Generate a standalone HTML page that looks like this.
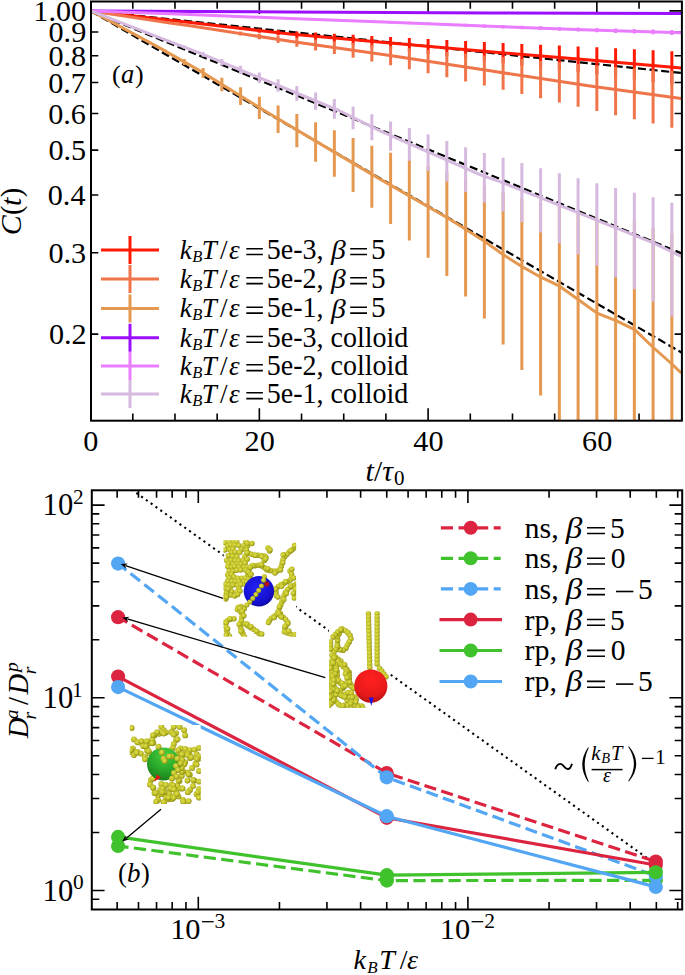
<!DOCTYPE html>
<html><head><meta charset="utf-8"><title>figure</title>
<style>
html,body{margin:0;padding:0;background:#fff;}
svg{display:block;}
text{font-family:"Liberation Serif",serif;fill:#000;}
</style></head><body>

<svg width="685" height="975" viewBox="0 0 685 975">
<defs>
<clipPath id="clipA"><rect x="91" y="1.5" width="590.9" height="419.2"/></clipPath>
<clipPath id="clipB"><rect x="91.8" y="490.3" width="590.4" height="419.2"/></clipPath>
<clipPath id="clipI1"><rect x="223.4" y="540.2" width="72.7" height="96.4"/></clipPath>
<clipPath id="clipI2"><rect x="329" y="611.2" width="59.8" height="96.6"/></clipPath>
<clipPath id="clipI3"><rect x="129.8" y="725" width="71" height="78.9"/></clipPath>
<radialGradient id="gy" cx="0.42" cy="0.4" r="0.62"><stop offset="0" stop-color="#dede50"/><stop offset="0.55" stop-color="#c4c42a"/><stop offset="1" stop-color="#8a8a12"/></radialGradient>
<radialGradient id="gb" cx="0.42" cy="0.38" r="0.7"><stop offset="0" stop-color="#2222f4"/><stop offset="0.7" stop-color="#1510d0"/><stop offset="1" stop-color="#0c0890"/></radialGradient>
<radialGradient id="gr" cx="0.5" cy="0.3" r="0.75"><stop offset="0" stop-color="#ff2020"/><stop offset="0.65" stop-color="#e81a1a"/><stop offset="1" stop-color="#b01010"/></radialGradient>
<radialGradient id="gg" cx="0.55" cy="0.2" r="0.8"><stop offset="0" stop-color="#48d040"/><stop offset="0.6" stop-color="#2aa82a"/><stop offset="1" stop-color="#1a801a"/></radialGradient>
</defs>
<rect width="685" height="975" fill="#fff"/>
<path d="M132.79 420.7v-7.3M132.79 1.5v7.3M174.97 420.7v-7.3M174.97 1.5v7.3M217.16 420.7v-7.3M217.16 1.5v7.3M259.35 420.7v-12.5M259.35 1.5v12.5M301.54 420.7v-7.3M301.54 1.5v7.3M343.73 420.7v-7.3M343.73 1.5v7.3M385.91 420.7v-7.3M385.91 1.5v7.3M428.1 420.7v-12.5M428.1 1.5v12.5M470.29 420.7v-7.3M470.29 1.5v7.3M512.48 420.7v-7.3M512.48 1.5v7.3M554.66 420.7v-7.3M554.66 1.5v7.3M596.85 420.7v-12.5M596.85 1.5v12.5M639.04 420.7v-7.3M639.04 1.5v7.3M91 10.9h12.5M681.9 10.9h-12.5M91 334.17h7.3M681.9 334.17h-7.3M91 252.73h7.3M681.9 252.73h-7.3M91 194.95h7.3M681.9 194.95h-7.3M91 150.13h7.3M681.9 150.13h-7.3M91 113.51h7.3M681.9 113.51h-7.3M91 82.54h7.3M681.9 82.54h-7.3M91 55.72h7.3M681.9 55.72h-7.3M91 32.06h7.3M681.9 32.06h-7.3" stroke="#000" stroke-width="1.6" fill="none"/>
<g clip-path="url(#clipA)">
<path d="M91 10.9 L681.9 73.06" stroke="#000" stroke-width="2.2" stroke-dasharray="8.1 3.6" fill="none"/>
<path d="M91 11.2 L681.9 253.47" stroke="#000" stroke-width="2.2" stroke-dasharray="8.1 3.6" fill="none"/>
<path d="M91 11.2 L681.9 352.74" stroke="#000" stroke-width="2.2" stroke-dasharray="8.1 3.6" fill="none"/>
<path d="M91 10.9 L170 20.2 L190 22.6 L290 34 L390 43.1 L490 51.8 L590 59.9 L681.2 67.9" fill="none" stroke="#ff1a05" stroke-width="3.0" stroke-linejoin="round"/>
<path d="M203.1 23.58V24.61M221.85 25.19V27.27M240.6 26.8V29.95M259.35 28.39V32.64M278.1 29.98V35.35M296.85 31.39V37.91M315.6 32.54V40.2M334.35 33.67V42.5M353.1 34.79V44.81M371.85 35.91V47.14M390.6 37.02V49.48M409.35 38.05V51.75M428.1 39.07V54.04M446.85 40.09V56.33M465.6 41.09V58.65M484.35 42.09V60.97M503.1 43.01V63.22M521.85 43.88V65.45M540.6 44.75V67.7M559.35 45.62V69.95M578.1 46.47V72.22M596.85 47.36V74.56M615.6 48.32V76.99M634.35 49.27V79.44M653.1 50.22V81.9M671.85 51.15V84.38" stroke="#ff1a05" stroke-width="3.0" fill="none"/>
<path d="M91 10.9 L170 23.1 L190 25.7 L290 41.2 L390 55.5 L490 70.8 L590 86.1 L681.2 98.5" fill="none" stroke="#f07449" stroke-width="3.0" stroke-linejoin="round"/>
<path d="M203.1 27.38V28.08M221.85 29.49V31.79M240.6 31.57V35.53M259.35 33.64V39.3M278.1 35.69V43.09M296.85 37.63V46.83M315.6 39.42V50.46M334.35 41.18V54.11M353.1 42.93V57.79M371.85 44.66V61.5M390.6 46.37V65.25M409.35 48.24V69.23M428.1 50.08V73.24M446.85 51.91V77.29M465.6 53.71V81.38M484.35 55.48V85.51M503.1 57.24V89.68M521.85 58.97V93.89M540.6 60.68V98.15M559.35 62.37V102.45M578.1 64.03V106.8M596.85 65.57V111.07M615.6 66.9V115.15M634.35 68.21V119.29M653.1 69.5V123.47M671.85 70.77V127.71" stroke="#f07449" stroke-width="3.0" fill="none"/>
<path d="M91 10.9 L160 48.1 L200 70.9 L260 108 L330 149.6 L380 179.1 L448.6 218.5 L484.5 241.3 L503.3 254.8 L522.2 266.7 L540.8 277.2 L559.6 286.2 L578.5 299.7 L597 313.1 L615.9 320.6 L634.7 329.6 L653.3 347.5 L671.9 364 L681.2 373" fill="none" stroke="#e5984f" stroke-width="3.0" stroke-linejoin="round"/>
<path d="M146.85 40.82V41.2M165.6 49.73V52.87M184.35 58.9V65.11M203.1 68.06V77.69M221.85 77.8V91.24M240.6 87.36V105.04M259.35 96.72V119.1M278.1 105.46V132.99M296.85 113.98V147.19M315.6 122.29V161.73M334.35 130.35V176.65M353.1 138.11V191.94M371.85 145.63V207.74M390.6 152.75V223.89M409.35 159.5V240.53M428.1 166V257.87M446.85 172.22V276.04M465.6 178.97V296.61M484.35 185.47V318.6M503.1 192.78V344.54M521.85 198.52V369.97M540.6 203.07V395.55M559.35 206.25V420.54M578.1 212.03V430M596.85 217.54V430M615.6 218.97V430M634.35 221.09V430M653.1 227.98V430M671.85 233.56V430" stroke="#e5984f" stroke-width="3.0" fill="none"/>
<path d="M91 10.9 L290 11.9 L490 12.9 L681.2 13.4" fill="none" stroke="#9b0fff" stroke-width="3.0" stroke-linejoin="round"/>
<path d="M109.35 10.97V11.01M128.1 11.05V11.13M146.85 11.12V11.24M165.6 11.19V11.36M184.35 11.27V11.47M203.1 11.34V11.58M221.85 11.42V11.7M240.6 11.49V11.81M259.35 11.56V11.93M278.1 11.64V12.04M296.85 11.71V12.16M315.6 11.79V12.27M334.35 11.86V12.38M353.1 11.93V12.5M371.85 12.01V12.61M390.6 12.08V12.73M409.35 12.15V12.84M428.1 12.23V12.96M446.85 12.3V13.07M465.6 12.37V13.18M484.35 12.45V13.3M503.1 12.49V13.38M521.85 12.52V13.45M540.6 12.55V13.52M559.35 12.57V13.59M578.1 12.6V13.66M596.85 12.63V13.73M615.6 12.66V13.8M634.35 12.69V13.87M653.1 12.72V13.94M671.85 12.75V14.01" stroke="#9b0fff" stroke-width="3.0" fill="none"/>
<path d="M91 10.9 L170 13.8 L190 14.6 L290 18.5 L390 22.2 L490 26.3 L590 29.9 L681.2 32.8" fill="none" stroke="#e97cff" stroke-width="3.0" stroke-linejoin="round"/>
<path d="M109.35 11.5V11.64M128.1 12.12V12.4M146.85 12.74V13.16M165.6 13.35V13.92M184.35 14.02V14.73M203.1 14.68V15.54M221.85 15.34V16.35M240.6 16V17.15M259.35 16.65V17.96M278.1 17.31V18.77M296.85 17.95V19.56M315.6 18.57V20.33M334.35 19.19V21.1M353.1 19.8V21.87M371.85 20.42V22.64M390.6 21.04V23.42M409.35 21.73V24.27M428.1 22.42V25.12M446.85 23.11V25.97M465.6 23.79V26.82M484.35 24.48V27.67M503.1 25.1V28.45M521.85 25.7V29.21M540.6 26.29V29.97M559.35 26.88V30.73M578.1 27.48V31.49M596.85 28.04V32.22M615.6 28.55V32.9M634.35 29.07V33.58M653.1 29.58V34.26M671.85 30.09V34.94" stroke="#e97cff" stroke-width="3.0" fill="none"/>
<path d="M91 10.9 L160 37.9 L200 53.1 L340 111 L380 130.9 L480 174.7 L503.3 182.9 L540.8 197.9 L578.5 212.9 L615.9 227.8 L653.3 242.8 L681.2 256.3" fill="none" stroke="#d6b9de" stroke-width="3.0" stroke-linejoin="round"/>
<path d="M146.85 32.57V32.94M165.6 39.16V40.9M184.35 45.55V48.77M203.1 51.99V56.8M221.85 58.9V65.42M240.6 65.75V74.12M259.35 72.54V82.88M278.1 79.27V91.73M296.85 85.92V100.66M315.6 92.51V109.67M334.35 99.02V118.79M353.1 106.5V129.17M371.85 114.33V140.19M390.6 121.46V150.68M409.35 128.05V160.8M428.1 134.54V171.06M446.85 140.92V181.48M465.6 147.2V192.09M484.35 153.04V202.46M503.1 157.68V211.59M521.85 163.01V221.94M540.6 168.24V232.52M559.35 173.33V243.29M578.1 178.32V254.31M596.85 183.19V265.63M615.6 187.96V277.25M634.35 192.64V289.27M653.1 197.2V301.67M671.85 202.85V316.6" stroke="#d6b9de" stroke-width="3.0" fill="none"/>
</g>
<rect x="91" y="1.5" width="590.9" height="419.2" fill="none" stroke="#000" stroke-width="2"/>
<text x="86.15" y="21.2" font-size="30.2" text-anchor="end">1.00</text>
<text x="86.24" y="42.36" font-size="30.2" text-anchor="end">0.9</text>
<text x="86.15" y="66.02" font-size="30.2" text-anchor="end">0.8</text>
<text x="85.87" y="92.84" font-size="30.2" text-anchor="end">0.7</text>
<text x="85.9" y="123.81" font-size="30.2" text-anchor="end">0.6</text>
<text x="86.18" y="160.43" font-size="30.2" text-anchor="end">0.5</text>
<text x="85.47" y="205.25" font-size="30.2" text-anchor="end">0.4</text>
<text x="86.18" y="263.03" font-size="30.2" text-anchor="end">0.3</text>
<text x="86.67" y="344.47" font-size="30.2" text-anchor="end">0.2</text>
<text x="90.9" y="450.6" font-size="30.2" text-anchor="middle">0</text>
<text x="259.65" y="450.6" font-size="30.2" text-anchor="middle">20</text>
<text x="428.4" y="450.6" font-size="30.2" text-anchor="middle">40</text>
<text x="597.15" y="450.6" font-size="30.2" text-anchor="middle">60</text>
<g transform="translate(21.2 235) rotate(-90)">
<text x="-0.17" y="0" font-size="30" font-style="italic">C</text>
<text x="19.95" y="0" font-size="28.5">(</text>
<text x="29.08" y="0" font-size="30" font-style="italic">t</text>
<text x="37.78" y="0" font-size="28.5">)</text>
</g>
<text x="365.58" y="480.9" font-size="30" font-style="italic">t</text>
<text x="373.9" y="480.9" font-size="29.5">/</text>
<text x="382.34" y="480.9" font-size="30" font-style="italic">τ</text>
<text x="393.9" y="484.6" font-size="21">0</text>
<text x="112.06" y="82.8" font-size="26">(</text>
<text x="121.01" y="82.8" font-size="26.5" font-style="italic">a</text>
<text x="135.06" y="82.8" font-size="26">)</text>
<path d="M101 249.9H159M130 235.9v28" stroke="#ff1a05" stroke-width="3.0" fill="none"/>
<text x="179.82" y="258.7" font-size="27" font-style="italic">k</text>
<text x="192.35" y="261.7" font-size="16.5" font-style="italic">B</text>
<text x="201.63" y="258.7" font-size="27" font-style="italic">T</text>
<text x="220" y="258.7" font-size="27">/</text>
<text x="229.02" y="258.7" font-size="27" font-style="italic">ε</text>
<path d="M246.3 248.7H262.9M246.3 254.5H262.9" stroke="#000" stroke-width="1.6"/>
<text transform="translate(266.87 258.7) scale(1.000 1.057)" font-size="28">5e-3,</text>
<text transform="translate(330.88 259) scale(1.100 1.000)" font-size="26.9" font-style="italic">β</text>
<path d="M350.2 248.7H367M350.2 254.5H367" stroke="#000" stroke-width="1.6"/>
<text x="371.1" y="258.7" font-size="29.2">5</text>
<path d="M101 279H159M130 265v28" stroke="#f07449" stroke-width="3.0" fill="none"/>
<text x="179.82" y="287.8" font-size="27" font-style="italic">k</text>
<text x="192.35" y="290.8" font-size="16.5" font-style="italic">B</text>
<text x="201.63" y="287.8" font-size="27" font-style="italic">T</text>
<text x="220" y="287.8" font-size="27">/</text>
<text x="229.02" y="287.8" font-size="27" font-style="italic">ε</text>
<path d="M246.3 277.8H262.9M246.3 283.6H262.9" stroke="#000" stroke-width="1.6"/>
<text transform="translate(266.87 287.8) scale(1.000 1.057)" font-size="28">5e-2,</text>
<text transform="translate(330.88 288.1) scale(1.100 1.000)" font-size="26.9" font-style="italic">β</text>
<path d="M350.2 277.8H367M350.2 283.6H367" stroke="#000" stroke-width="1.6"/>
<text x="371.1" y="287.8" font-size="29.2">5</text>
<path d="M101 308.5H159M130 294.5v28" stroke="#e5984f" stroke-width="3.0" fill="none"/>
<text x="179.82" y="317.3" font-size="27" font-style="italic">k</text>
<text x="192.35" y="320.3" font-size="16.5" font-style="italic">B</text>
<text x="201.63" y="317.3" font-size="27" font-style="italic">T</text>
<text x="220" y="317.3" font-size="27">/</text>
<text x="229.02" y="317.3" font-size="27" font-style="italic">ε</text>
<path d="M246.3 307.3H262.9M246.3 313.1H262.9" stroke="#000" stroke-width="1.6"/>
<text transform="translate(266.87 317.3) scale(1.000 1.057)" font-size="28">5e-1,</text>
<text transform="translate(330.88 317.6) scale(1.100 1.000)" font-size="26.9" font-style="italic">β</text>
<path d="M350.2 307.3H367M350.2 313.1H367" stroke="#000" stroke-width="1.6"/>
<text x="371.1" y="317.3" font-size="29.2">5</text>
<path d="M101 337.7H159M130 323.7v28" stroke="#9b0fff" stroke-width="3.0" fill="none"/>
<text x="179.82" y="346.5" font-size="27" font-style="italic">k</text>
<text x="192.35" y="349.5" font-size="16.5" font-style="italic">B</text>
<text x="201.63" y="346.5" font-size="27" font-style="italic">T</text>
<text x="220" y="346.5" font-size="27">/</text>
<text x="229.02" y="346.5" font-size="27" font-style="italic">ε</text>
<path d="M246.3 336.5H262.9M246.3 342.3H262.9" stroke="#000" stroke-width="1.6"/>
<text transform="translate(266.87 346.5) scale(1.000 1.057)" font-size="28">5e-3, colloid</text>
<path d="M101 366H159M130 352v28" stroke="#e97cff" stroke-width="3.0" fill="none"/>
<text x="179.82" y="374.8" font-size="27" font-style="italic">k</text>
<text x="192.35" y="377.8" font-size="16.5" font-style="italic">B</text>
<text x="201.63" y="374.8" font-size="27" font-style="italic">T</text>
<text x="220" y="374.8" font-size="27">/</text>
<text x="229.02" y="374.8" font-size="27" font-style="italic">ε</text>
<path d="M246.3 364.8H262.9M246.3 370.6H262.9" stroke="#000" stroke-width="1.6"/>
<text transform="translate(266.87 374.8) scale(1.000 1.057)" font-size="28">5e-2, colloid</text>
<path d="M101 394H159M130 380v28" stroke="#d6b9de" stroke-width="3.0" fill="none"/>
<text x="179.82" y="402.8" font-size="27" font-style="italic">k</text>
<text x="192.35" y="405.8" font-size="16.5" font-style="italic">B</text>
<text x="201.63" y="402.8" font-size="27" font-style="italic">T</text>
<text x="220" y="402.8" font-size="27">/</text>
<text x="229.02" y="402.8" font-size="27" font-style="italic">ε</text>
<path d="M246.3 392.8H262.9M246.3 398.6H262.9" stroke="#000" stroke-width="1.6"/>
<text transform="translate(266.87 402.8) scale(1.000 1.057)" font-size="28">5e-1, colloid</text>
<g clip-path="url(#clipB)">
<path d="M117.15 479.2 L656.3 864.59" stroke="#000" stroke-width="2.1" stroke-dasharray="2.1 3.8" fill="none"/>
<path d="M118.1 617.2 L386.7 773 L655.8 861.5" fill="none" stroke="#dc2440" stroke-width="3.2" stroke-dasharray="12.2 5.4" stroke-dashoffset="1.7"/>
<circle cx="118.1" cy="617.2" r="7.1" fill="#dc2440"/>
<circle cx="386.7" cy="773" r="7.1" fill="#dc2440"/>
<circle cx="655.8" cy="861.5" r="7.1" fill="#dc2440"/>
<path d="M118.1 846 L386.9 880.6 L655.8 880.3" fill="none" stroke="#40c22c" stroke-width="3.2" stroke-dasharray="12.2 5.4" stroke-dashoffset="1.7"/>
<circle cx="118.1" cy="846" r="7.1" fill="#40c22c"/>
<circle cx="386.9" cy="880.6" r="7.1" fill="#40c22c"/>
<circle cx="655.8" cy="880.3" r="7.1" fill="#40c22c"/>
<path d="M118.1 563.6 L386.7 777.3 L655.8 876" fill="none" stroke="#52a6f3" stroke-width="3.2" stroke-dasharray="12.2 5.4" stroke-dashoffset="1.7"/>
<circle cx="118.1" cy="563.6" r="7.1" fill="#52a6f3"/>
<circle cx="386.7" cy="777.3" r="7.1" fill="#52a6f3"/>
<circle cx="655.8" cy="876" r="7.1" fill="#52a6f3"/>
<path d="M118.1 676.6 L386.7 817.8 L655.8 865" fill="none" stroke="#dc2440" stroke-width="3.2"/>
<circle cx="118.1" cy="676.6" r="7.1" fill="#dc2440"/>
<circle cx="386.7" cy="817.8" r="7.1" fill="#dc2440"/>
<circle cx="655.8" cy="865" r="7.1" fill="#dc2440"/>
<path d="M118.1 836.9 L386.9 875.2 L655.8 872.3" fill="none" stroke="#40c22c" stroke-width="3.2"/>
<circle cx="118.1" cy="836.9" r="7.1" fill="#40c22c"/>
<circle cx="386.9" cy="875.2" r="7.1" fill="#40c22c"/>
<circle cx="655.8" cy="872.3" r="7.1" fill="#40c22c"/>
<path d="M118.1 687.1 L386.7 816.2 L655.8 886.9" fill="none" stroke="#52a6f3" stroke-width="3.2"/>
<circle cx="118.1" cy="687.1" r="7.1" fill="#52a6f3"/>
<circle cx="386.7" cy="816.2" r="7.1" fill="#52a6f3"/>
<circle cx="655.8" cy="886.9" r="7.1" fill="#52a6f3"/>
</g>
<g clip-path="url(#clipI1)">
<rect x="223.4" y="540.2" width="72.7" height="96.4" fill="#fff"/>
<g fill="url(#gy)"><circle cx="225.1" cy="542.68" r="2.75"/><circle cx="229.11" cy="542.14" r="2.75"/><circle cx="233.22" cy="542.21" r="2.75"/><circle cx="236.65" cy="541.69" r="2.75"/><circle cx="245.81" cy="541.27" r="2.75"/><circle cx="227.79" cy="545.81" r="2.75"/><circle cx="230.6" cy="544.79" r="2.75"/><circle cx="234.55" cy="545.07" r="2.75"/><circle cx="238.6" cy="545.51" r="2.75"/><circle cx="244" cy="545.6" r="2.75"/><circle cx="247.55" cy="545.83" r="2.75"/><circle cx="224.65" cy="549.93" r="2.75"/><circle cx="229.64" cy="549.47" r="2.75"/><circle cx="232.77" cy="548.8" r="2.75"/><circle cx="241.24" cy="549.69" r="2.75"/><circle cx="246.23" cy="549.69" r="2.75"/><circle cx="231.81" cy="552.65" r="2.75"/><circle cx="235.09" cy="552.02" r="2.75"/><circle cx="239.8" cy="552.33" r="2.75"/><circle cx="248.29" cy="553.11" r="2.75"/><circle cx="228.46" cy="555.56" r="2.75"/><circle cx="232.68" cy="556.36" r="2.75"/><circle cx="236.81" cy="556.64" r="2.75"/><circle cx="244.89" cy="556.14" r="2.75"/><circle cx="226.68" cy="560.59" r="2.75"/><circle cx="230.84" cy="560.45" r="2.75"/><circle cx="235.08" cy="560.4" r="2.75"/><circle cx="238.71" cy="560.62" r="2.75"/><circle cx="243.06" cy="560.27" r="2.75"/><circle cx="247.22" cy="559.15" r="2.75"/><circle cx="228.69" cy="563.56" r="2.75"/><circle cx="233.13" cy="564.14" r="2.75"/><circle cx="237.42" cy="563.99" r="2.75"/><circle cx="240.85" cy="564.06" r="2.75"/><circle cx="245.1" cy="562.91" r="2.75"/><circle cx="227.75" cy="566.48" r="2.75"/><circle cx="231.76" cy="567.13" r="2.75"/><circle cx="234.62" cy="566.23" r="2.75"/><circle cx="238.93" cy="567.3" r="2.75"/><circle cx="243.97" cy="567.12" r="2.75"/><circle cx="247.03" cy="567.32" r="2.75"/><circle cx="229.19" cy="571.1" r="2.75"/><circle cx="232.85" cy="571.2" r="2.75"/><circle cx="236.53" cy="570.17" r="2.75"/><circle cx="240.7" cy="570.02" r="2.75"/><circle cx="245.62" cy="569.95" r="2.75"/><circle cx="227.68" cy="574.87" r="2.75"/><circle cx="231.46" cy="574.24" r="2.75"/><circle cx="247.87" cy="574.84" r="2.75"/><circle cx="229.07" cy="578.04" r="2.75"/><circle cx="234" cy="576.99" r="2.75"/><circle cx="237.68" cy="578.31" r="2.75"/><circle cx="241.73" cy="578.14" r="2.75"/><circle cx="245.26" cy="577.97" r="2.75"/><circle cx="227.64" cy="581.1" r="2.75"/><circle cx="231.73" cy="581.35" r="2.75"/><circle cx="235.06" cy="581.37" r="2.75"/><circle cx="238.68" cy="581.46" r="2.75"/><circle cx="244.06" cy="581.6" r="2.75"/><circle cx="247.93" cy="581.37" r="2.75"/><circle cx="225.54" cy="584.14" r="2.75"/><circle cx="228.35" cy="584.97" r="2.75"/><circle cx="232.77" cy="585.12" r="2.75"/><circle cx="237.48" cy="585.48" r="2.75"/><circle cx="240.62" cy="584.49" r="2.75"/><circle cx="245.02" cy="584.28" r="2.75"/><circle cx="226.26" cy="587.91" r="2.75"/><circle cx="229.82" cy="588.27" r="2.75"/><circle cx="238.79" cy="588.66" r="2.75"/><circle cx="227.87" cy="591.7" r="2.75"/><circle cx="231.57" cy="591.56" r="2.75"/><circle cx="236.81" cy="591.9" r="2.75"/><circle cx="239.99" cy="591.04" r="2.75"/><circle cx="225.64" cy="594.68" r="2.75"/><circle cx="230.3" cy="595.12" r="2.75"/><circle cx="234.74" cy="595.91" r="2.75"/><circle cx="237.62" cy="594.38" r="2.75"/><circle cx="247.27" cy="543.33" r="2.75"/><circle cx="251.99" cy="543.47" r="2.75"/><circle cx="294.7" cy="547.7" r="2.75"/><circle cx="291.97" cy="549.73" r="2.75"/><circle cx="289.34" cy="551.87" r="2.75"/><circle cx="286.96" cy="554.3" r="2.75"/><circle cx="284.74" cy="556.86" r="2.75"/><circle cx="282.93" cy="559.71" r="2.75"/><circle cx="282.13" cy="563.02" r="2.75"/><circle cx="281.31" cy="566.32" r="2.75"/><circle cx="279.92" cy="569.22" r="2.75"/><circle cx="277.05" cy="571" r="2.75"/><circle cx="273.65" cy="571" r="2.75"/><circle cx="270.28" cy="570.74" r="2.75"/><circle cx="266.97" cy="569.96" r="2.75"/><circle cx="264.49" cy="567.69" r="2.75"/><circle cx="261.67" cy="566.01" r="2.75"/><circle cx="258.38" cy="565.22" r="2.75"/><circle cx="255" cy="565.63" r="2.75"/><circle cx="251.74" cy="566.26" r="2.75"/><circle cx="249.33" cy="568.67" r="2.75"/><circle cx="294.5" cy="545.61" r="2.75"/><circle cx="290.79" cy="550.72" r="2.75"/><circle cx="283.16" cy="554.87" r="2.75"/><circle cx="282.7" cy="562.78" r="2.75"/><circle cx="280.49" cy="569.9" r="2.75"/><circle cx="275" cy="573.02" r="2.75"/><circle cx="267.78" cy="568.64" r="2.75"/><circle cx="261.57" cy="564.6" r="2.75"/><circle cx="252.85" cy="565.51" r="2.75"/><circle cx="250.27" cy="567.26" r="2.75"/><circle cx="248" cy="553.5" r="2.75"/><circle cx="251.29" cy="554.35" r="2.75"/><circle cx="254.59" cy="555.19" r="2.75"/><circle cx="257.97" cy="555.3" r="2.75"/><circle cx="261.36" cy="555.39" r="2.75"/><circle cx="264.7" cy="556.02" r="2.75"/><circle cx="266.03" cy="557.59" r="2.75"/><circle cx="264.35" cy="560.55" r="2.75"/><circle cx="247" cy="552.82" r="2.75"/><circle cx="255.45" cy="555.28" r="2.75"/><circle cx="261.87" cy="556.52" r="2.75"/><circle cx="265.56" cy="558.88" r="2.75"/><circle cx="290" cy="571" r="2.75"/><circle cx="291.55" cy="574.03" r="2.75"/><circle cx="291.71" cy="577.06" r="2.75"/><circle cx="290.16" cy="580.08" r="2.75"/><circle cx="287.28" cy="581.76" r="2.75"/><circle cx="284.2" cy="583.21" r="2.75"/><circle cx="281.07" cy="584.54" r="2.75"/><circle cx="278.32" cy="586.47" r="2.75"/><circle cx="276" cy="588.82" r="2.75"/><circle cx="276" cy="592.22" r="2.75"/><circle cx="276.2" cy="595.61" r="2.75"/><circle cx="291.79" cy="569.18" r="2.75"/><circle cx="293.61" cy="578.03" r="2.75"/><circle cx="285.65" cy="581.56" r="2.75"/><circle cx="281.63" cy="586.35" r="2.75"/><circle cx="275.46" cy="589.12" r="2.75"/><circle cx="277.87" cy="596.91" r="2.75"/><circle cx="296" cy="584" r="2.75"/><circle cx="293.05" cy="585.69" r="2.75"/><circle cx="290.1" cy="587.37" r="2.75"/><circle cx="287.57" cy="589.59" r="2.75"/><circle cx="285.35" cy="592.15" r="2.75"/><circle cx="284.25" cy="595.36" r="2.75"/><circle cx="283.14" cy="598.58" r="2.75"/><circle cx="281.93" cy="601.75" r="2.75"/><circle cx="280.69" cy="604.92" r="2.75"/><circle cx="279.51" cy="608.11" r="2.75"/><circle cx="278.31" cy="611.29" r="2.75"/><circle cx="276.96" cy="614.36" r="2.75"/><circle cx="274.13" cy="616.25" r="2.75"/><circle cx="271.31" cy="618.14" r="2.75"/><circle cx="269.3" cy="620.75" r="2.75"/><circle cx="297.95" cy="583.84" r="2.75"/><circle cx="290.76" cy="586.08" r="2.75"/><circle cx="286.33" cy="593.55" r="2.75"/><circle cx="283.77" cy="599.54" r="2.75"/><circle cx="279.43" cy="606.68" r="2.75"/><circle cx="280.43" cy="613.39" r="2.75"/><circle cx="274.29" cy="617.52" r="2.75"/><circle cx="268.51" cy="622.55" r="2.75"/><circle cx="277.2" cy="614.2" r="2.75"/><circle cx="280.24" cy="615.72" r="2.75"/><circle cx="283.28" cy="617.24" r="2.75"/><circle cx="285.62" cy="619.6" r="2.75"/><circle cx="287.65" cy="622.33" r="2.75"/><circle cx="286.22" cy="625.36" r="2.75"/><circle cx="285.01" cy="628.52" r="2.75"/><circle cx="284.31" cy="631.74" r="2.75"/><circle cx="287.47" cy="633" r="2.75"/><circle cx="290.58" cy="634.35" r="2.75"/><circle cx="293.5" cy="636.1" r="2.75"/><circle cx="278.77" cy="613.53" r="2.75"/><circle cx="281.45" cy="616.98" r="2.75"/><circle cx="287.87" cy="623.51" r="2.75"/><circle cx="284.96" cy="626.45" r="2.75"/><circle cx="288.83" cy="631.08" r="2.75"/><circle cx="294.82" cy="634.66" r="2.75"/><circle cx="296" cy="588" r="2.75"/><circle cx="295.44" cy="591.35" r="2.75"/><circle cx="294.88" cy="594.71" r="2.75"/><circle cx="294.32" cy="598.06" r="2.75"/><circle cx="295.27" cy="589.27" r="2.75"/><circle cx="293.3" cy="593.16" r="2.75"/><circle cx="244" cy="608" r="2.75"/><circle cx="240.96" cy="606.48" r="2.75"/><circle cx="238.23" cy="607.51" r="2.75"/><circle cx="237.43" cy="609.62" r="2.75"/><circle cx="240.26" cy="611.51" r="2.75"/><circle cx="242.2" cy="614.2" r="2.75"/><circle cx="241.85" cy="617.59" r="2.75"/><circle cx="241.33" cy="620.93" r="2.75"/><circle cx="240.39" cy="624.2" r="2.75"/><circle cx="240.52" cy="627.41" r="2.75"/><circle cx="241.82" cy="630.55" r="2.75"/><circle cx="242.92" cy="633.77" r="2.75"/><circle cx="244" cy="636.99" r="2.75"/><circle cx="244.07" cy="608.98" r="2.75"/><circle cx="239.73" cy="608.35" r="2.75"/><circle cx="242.22" cy="611.47" r="2.75"/><circle cx="243.83" cy="615.76" r="2.75"/><circle cx="239.16" cy="624.32" r="2.75"/><circle cx="240.89" cy="631.56" r="2.75"/><circle cx="244.61" cy="637.09" r="2.75"/><circle cx="224.7" cy="622.4" r="2.75"/><circle cx="227.58" cy="620.59" r="2.75"/><circle cx="230.64" cy="619.27" r="2.75"/><circle cx="234" cy="618.71" r="2.75"/><circle cx="226.21" cy="622.66" r="2.75"/><circle cx="229.81" cy="618.75" r="2.75"/><circle cx="226" cy="627" r="2.75"/><circle cx="226.56" cy="630.35" r="2.75"/><circle cx="227.43" cy="633.57" r="2.75"/><circle cx="229.47" cy="636.29" r="2.75"/><circle cx="227.52" cy="628.76" r="2.75"/><circle cx="226.15" cy="635.12" r="2.75"/><circle cx="245" cy="624" r="2.75"/><circle cx="247.79" cy="625.95" r="2.75"/><circle cx="250.62" cy="627.81" r="2.75"/><circle cx="253.66" cy="629.33" r="2.75"/><circle cx="256.43" cy="631.26" r="2.75"/><circle cx="258.99" cy="633.49" r="2.75"/><circle cx="261.21" cy="636.08" r="2.75"/><circle cx="247.06" cy="624.11" r="2.75"/><circle cx="250.94" cy="626.5" r="2.75"/><circle cx="256.59" cy="631.27" r="2.75"/><circle cx="261.67" cy="634" r="2.75"/><circle cx="226" cy="589" r="2.75"/><circle cx="226.56" cy="592.35" r="2.75"/><circle cx="226.77" cy="595.68" r="2.75"/><circle cx="225.7" cy="598.91" r="2.75"/><circle cx="228.07" cy="589.07" r="2.75"/><circle cx="226.34" cy="597.01" r="2.75"/><circle cx="248" cy="572" r="2.75"/><circle cx="250.77" cy="573.98" r="2.75"/><circle cx="250.01" cy="576.5" r="2.75"/><circle cx="247.99" cy="579.24" r="2.75"/><circle cx="246.68" cy="582.37" r="2.75"/><circle cx="248.28" cy="571.96" r="2.75"/><circle cx="250.85" cy="574.59" r="2.75"/><circle cx="246.85" cy="581.99" r="2.75"/><circle cx="268" cy="548" r="2.75"/><circle cx="269.52" cy="551.04" r="2.75"/><circle cx="270.01" cy="549.86" r="2.75"/></g>
<circle cx="258.9" cy="591.3" r="15.2" fill="url(#gb)"/>
<circle cx="266.7" cy="584" r="2.6" fill="#b01212"/>
<g fill="url(#gy)"><circle cx="264.4" cy="576.5" r="2.5"/><circle cx="263.6" cy="580.2" r="2.5"/><circle cx="261.5" cy="586" r="2.5"/><circle cx="258.7" cy="590.6" r="2.5"/><circle cx="255.9" cy="594.6" r="2.5"/><circle cx="252.8" cy="598.4" r="2.5"/><circle cx="249.8" cy="601.9" r="2.5"/><circle cx="246.8" cy="605" r="2.5"/></g>
</g>
<g clip-path="url(#clipI2)">
<rect x="329" y="611.2" width="59.8" height="96.6" fill="#fff"/>
<g fill="url(#gy)"><circle cx="341.9" cy="628.7" r="2.8"/><circle cx="345.04" cy="630.46" r="2.8"/><circle cx="347.89" cy="632.65" r="2.8"/><circle cx="349.96" cy="635.38" r="2.8"/><circle cx="350.88" cy="638.86" r="2.8"/><circle cx="349.22" cy="641.89" r="2.8"/><circle cx="347.32" cy="644.93" r="2.8"/><circle cx="345.84" cy="648.21" r="2.8"/><circle cx="343.15" cy="650.23" r="2.8"/><circle cx="340.2" cy="649.67" r="2.8"/><circle cx="337.68" cy="647.1" r="2.8"/><circle cx="337.39" cy="643.75" r="2.8"/><circle cx="337.6" cy="640.16" r="2.8"/><circle cx="337.6" cy="636.56" r="2.8"/><circle cx="339.21" cy="633.39" r="2.8"/><circle cx="341" cy="630.26" r="2.8"/><circle cx="333.2" cy="636.9" r="2.8"/><circle cx="335.57" cy="634.32" r="2.8"/><circle cx="337.98" cy="631.8" r="2.8"/><circle cx="340.73" cy="629.63" r="2.8"/><circle cx="337.1" cy="646.5" r="2.8"/><circle cx="335.57" cy="649.65" r="2.8"/><circle cx="333.66" cy="652.57" r="2.8"/><circle cx="332.05" cy="655.33" r="2.8"/><circle cx="335.18" cy="656.89" r="2.8"/><circle cx="337.91" cy="659.07" r="2.8"/><circle cx="340.7" cy="661.1" r="2.8"/><circle cx="342.66" cy="664" r="2.8"/><circle cx="344.69" cy="666.85" r="2.8"/><circle cx="346.89" cy="669.57" r="2.8"/><circle cx="349.09" cy="672.29" r="2.8"/><circle cx="349.1" cy="675.79" r="2.8"/><circle cx="349.1" cy="679.29" r="2.8"/><circle cx="349.51" cy="682.67" r="2.8"/><circle cx="351.32" cy="685.67" r="2.8"/><circle cx="330.5" cy="642" r="2.8"/><circle cx="330.5" cy="645.5" r="2.8"/><circle cx="330.5" cy="649" r="2.8"/><circle cx="335.6" cy="658.9" r="2.8"/><circle cx="338.19" cy="661.4" r="2.8"/><circle cx="340.3" cy="664.31" r="2.8"/><circle cx="343.14" cy="666.49" r="2.8"/><circle cx="345.71" cy="669.01" r="2.8"/><circle cx="347.89" cy="671.86" r="2.8"/><circle cx="348.56" cy="675.33" r="2.8"/><circle cx="347.47" cy="678.76" r="2.8"/><circle cx="347.27" cy="682.09" r="2.8"/><circle cx="349.5" cy="684.78" r="2.8"/><circle cx="352.01" cy="687.27" r="2.8"/><circle cx="335.6" cy="664.6" r="2.8"/><circle cx="336.32" cy="668.13" r="2.8"/><circle cx="337.05" cy="671.65" r="2.8"/><circle cx="337.26" cy="675.13" r="2.8"/><circle cx="335.87" cy="678.45" r="2.8"/><circle cx="337.65" cy="681.15" r="2.8"/><circle cx="340.5" cy="683.31" r="2.8"/><circle cx="343.19" cy="685.69" r="2.8"/><circle cx="342.87" cy="688.23" r="2.8"/><circle cx="340.12" cy="690.54" r="2.8"/><circle cx="337.11" cy="692.51" r="2.8"/><circle cx="334.82" cy="695.11" r="2.8"/><circle cx="334.17" cy="698.34" r="2.8"/><circle cx="335.89" cy="701.49" r="2.8"/><circle cx="338.43" cy="704.03" r="2.8"/><circle cx="331.8" cy="660.8" r="2.8"/><circle cx="331.19" cy="664.35" r="2.8"/><circle cx="331.03" cy="667.89" r="2.8"/><circle cx="331.65" cy="671.44" r="2.8"/><circle cx="331.34" cy="674.99" r="2.8"/><circle cx="330.88" cy="678.54" r="2.8"/><circle cx="331.49" cy="682.08" r="2.8"/><circle cx="331.5" cy="685.63" r="2.8"/><circle cx="330.89" cy="689.18" r="2.8"/><circle cx="331.32" cy="692.73" r="2.8"/><circle cx="331.66" cy="696.27" r="2.8"/><circle cx="331.04" cy="699.82" r="2.8"/><circle cx="331.25" cy="703.35" r="2.8"/><circle cx="340.5" cy="706" r="2.8"/><circle cx="344.04" cy="705.34" r="2.8"/><circle cx="347.58" cy="705.53" r="2.8"/><circle cx="351.12" cy="705.81" r="2.8"/><circle cx="354.65" cy="705.15" r="2.8"/><circle cx="358.19" cy="705.72" r="2.8"/><circle cx="361.77" cy="706" r="2.8"/><circle cx="347.2" cy="700.3" r="2.8"/><circle cx="349.22" cy="697.46" r="2.8"/><circle cx="352.46" cy="699.03" r="2.8"/><circle cx="354.64" cy="696.79" r="2.8"/><circle cx="356.05" cy="699.31" r="2.8"/><circle cx="355.23" cy="701.2" r="2.8"/><circle cx="351.63" cy="701.2" r="2.8"/><circle cx="341" cy="694" r="2.8"/><circle cx="343.55" cy="696.55" r="2.8"/><circle cx="345.32" cy="694.35" r="2.8"/><circle cx="348.02" cy="692.49" r="2.8"/><circle cx="351.3" cy="692.87" r="2.8"/><circle cx="334" cy="686" r="2.8"/><circle cx="336" cy="689" r="2.8"/><circle cx="346.72" cy="671.79" r="2.8"/><circle cx="348.95" cy="678.02" r="2.8"/><circle cx="334.18" cy="657.8" r="2.8"/><circle cx="344.63" cy="664.68" r="2.8"/><circle cx="345.4" cy="673.72" r="2.8"/><circle cx="347.14" cy="677.74" r="2.8"/><circle cx="349.57" cy="682.29" r="2.8"/><circle cx="354.22" cy="688.22" r="2.8"/><circle cx="336.35" cy="669.98" r="2.8"/><circle cx="335.08" cy="674.13" r="2.8"/><circle cx="338.54" cy="680.34" r="2.8"/><circle cx="342.1" cy="683.22" r="2.8"/><circle cx="343.09" cy="686.71" r="2.8"/><circle cx="345.24" cy="685.85" r="2.8"/><circle cx="336.25" cy="694.44" r="2.8"/><circle cx="333.62" cy="699.89" r="2.8"/><circle cx="333.08" cy="662.95" r="2.8"/><circle cx="330.3" cy="668.02" r="2.8"/><circle cx="332.58" cy="676.47" r="2.8"/><circle cx="333.72" cy="680.04" r="2.8"/><circle cx="332.06" cy="687.72" r="2.8"/><circle cx="333.01" cy="689.4" r="2.8"/><circle cx="330.41" cy="691.11" r="2.8"/><circle cx="329.91" cy="697.22" r="2.8"/><circle cx="328.99" cy="705.79" r="2.8"/><circle cx="342.73" cy="705.81" r="2.8"/><circle cx="350.72" cy="703.59" r="2.8"/><circle cx="358.16" cy="707.41" r="2.8"/><circle cx="362.92" cy="708.25" r="2.8"/><circle cx="352.13" cy="697.28" r="2.8"/><circle cx="355.82" cy="701.8" r="2.8"/><circle cx="340.94" cy="695.15" r="2.8"/><circle cx="342.5" cy="696.06" r="2.8"/><circle cx="344.71" cy="696.8" r="2.8"/><circle cx="333.19" cy="683.95" r="2.8"/><circle cx="337.41" cy="690.83" r="2.8"/></g>
<g fill="url(#gy)"><circle cx="368.4" cy="613.5" r="2.7"/><circle cx="368.49" cy="617.1" r="2.7"/><circle cx="368.59" cy="620.7" r="2.7"/><circle cx="368.68" cy="624.3" r="2.7"/><circle cx="368.77" cy="627.9" r="2.7"/><circle cx="368.87" cy="631.5" r="2.7"/><circle cx="368.96" cy="635.1" r="2.7"/><circle cx="369.05" cy="638.7" r="2.7"/><circle cx="369.15" cy="642.3" r="2.7"/><circle cx="369.24" cy="645.9" r="2.7"/><circle cx="369.33" cy="649.5" r="2.7"/><circle cx="369.43" cy="653.1" r="2.7"/><circle cx="369.52" cy="656.7" r="2.7"/><circle cx="369.61" cy="660.3" r="2.7"/><circle cx="369.71" cy="663.9" r="2.7"/><circle cx="369.8" cy="667.5" r="2.7"/></g>
<g fill="url(#gy)"><circle cx="377.1" cy="613.5" r="2.7"/><circle cx="377.1" cy="617.1" r="2.7"/><circle cx="377.1" cy="620.7" r="2.7"/><circle cx="377.1" cy="624.3" r="2.7"/><circle cx="377.1" cy="627.9" r="2.7"/><circle cx="377.1" cy="631.5" r="2.7"/><circle cx="377.1" cy="635.1" r="2.7"/><circle cx="377.1" cy="638.7" r="2.7"/><circle cx="377.1" cy="642.3" r="2.7"/><circle cx="377.1" cy="645.9" r="2.7"/><circle cx="377.1" cy="649.5" r="2.7"/><circle cx="377.1" cy="653.1" r="2.7"/><circle cx="377.1" cy="656.7" r="2.7"/><circle cx="377.1" cy="660.3" r="2.7"/><circle cx="377.1" cy="663.9" r="2.7"/><circle cx="379.47" cy="668.21" r="2.7"/><circle cx="381.81" cy="670.95" r="2.7"/><circle cx="383.95" cy="673.84" r="2.7"/><circle cx="386.08" cy="676.74" r="2.7"/></g>
<circle cx="370.8" cy="686.1" r="16.6" fill="url(#gr)"/>
<path d="M369 697.5 L373.6 697.5 L371.3 706 Z" fill="#1515f0"/>
</g>
<g clip-path="url(#clipI3)">
<rect x="129.8" y="725" width="71" height="78.9" fill="#fff"/>
<g fill="url(#gy)"><circle cx="131.7" cy="728" r="2.95"/><circle cx="161.3" cy="726.8" r="2.95"/><circle cx="163.6" cy="730.3" r="2.95"/><circle cx="161.3" cy="732.5" r="2.95"/><circle cx="159" cy="733.7" r="2.95"/><circle cx="154.5" cy="735.4" r="2.95"/><circle cx="165.9" cy="732.5" r="2.95"/><circle cx="171.6" cy="731.4" r="2.95"/><circle cx="176.1" cy="733.1" r="2.95"/><circle cx="173.8" cy="726.8" r="2.95"/><circle cx="179.5" cy="726.8" r="2.95"/><circle cx="184.1" cy="730.3" r="2.95"/><circle cx="185.2" cy="735.4" r="2.95"/><circle cx="176.1" cy="740" r="2.95"/><circle cx="173.8" cy="743.9" r="2.95"/><circle cx="172.7" cy="747.9" r="2.95"/><circle cx="171.6" cy="750.8" r="2.95"/><circle cx="134" cy="739.4" r="2.95"/><circle cx="137.4" cy="742.2" r="2.95"/><circle cx="140.8" cy="742.8" r="2.95"/><circle cx="144.2" cy="744.5" r="2.95"/><circle cx="148.8" cy="743.3" r="2.95"/><circle cx="153.3" cy="742.8" r="2.95"/><circle cx="152.2" cy="739.4" r="2.95"/><circle cx="146.5" cy="747.3" r="2.95"/><circle cx="147.1" cy="750.8" r="2.95"/><circle cx="132.8" cy="748.5" r="2.95"/><circle cx="137.4" cy="751.9" r="2.95"/><circle cx="140.8" cy="753.6" r="2.95"/><circle cx="144.8" cy="757" r="2.95"/><circle cx="149.3" cy="753" r="2.95"/><circle cx="131" cy="752" r="2.95"/><circle cx="134" cy="755" r="2.95"/><circle cx="180.7" cy="748.5" r="2.95"/><circle cx="185.2" cy="749" r="2.95"/><circle cx="189.8" cy="750.2" r="2.95"/><circle cx="194.3" cy="749.6" r="2.95"/><circle cx="198.9" cy="747.9" r="2.95"/><circle cx="179.5" cy="753" r="2.95"/><circle cx="185.2" cy="754.2" r="2.95"/><circle cx="189.8" cy="755.3" r="2.95"/><circle cx="196.6" cy="754.2" r="2.95"/><circle cx="198.9" cy="758.7" r="2.95"/><circle cx="181.8" cy="758.7" r="2.95"/><circle cx="176.1" cy="755.3" r="2.95"/><circle cx="185.2" cy="762.1" r="2.95"/><circle cx="195.5" cy="763.8" r="2.95"/><circle cx="192.1" cy="768" r="2.95"/><circle cx="196.6" cy="764.6" r="2.95"/><circle cx="187.5" cy="772.5" r="2.95"/><circle cx="189.8" cy="774.8" r="2.95"/><circle cx="194.3" cy="780.5" r="2.95"/><circle cx="198.9" cy="781.6" r="2.95"/><circle cx="187.5" cy="780.5" r="2.95"/><circle cx="196.6" cy="794.2" r="2.95"/><circle cx="198.9" cy="797.6" r="2.95"/><circle cx="183" cy="799.9" r="2.95"/><circle cx="186.4" cy="803.3" r="2.95"/><circle cx="181.8" cy="775.9" r="2.95"/><circle cx="183" cy="771.4" r="2.95"/><circle cx="181.8" cy="766.8" r="2.95"/><circle cx="179.5" cy="763.4" r="2.95"/><circle cx="151" cy="780" r="2.95"/><circle cx="149.9" cy="784.5" r="2.95"/><circle cx="153.3" cy="787.9" r="2.95"/><circle cx="154.5" cy="793" r="2.95"/><circle cx="157.9" cy="795.3" r="2.95"/><circle cx="163.6" cy="802.1" r="2.95"/><circle cx="168.1" cy="799.3" r="2.95"/><circle cx="161.3" cy="783.9" r="2.95"/><circle cx="165.9" cy="785" r="2.95"/><circle cx="171.6" cy="784.5" r="2.95"/><circle cx="177.3" cy="785.6" r="2.95"/><circle cx="179.5" cy="781.1" r="2.95"/><circle cx="160.2" cy="789.6" r="2.95"/><circle cx="164.7" cy="790.8" r="2.95"/><circle cx="170.4" cy="789.6" r="2.95"/><circle cx="176.1" cy="790.8" r="2.95"/><circle cx="180.7" cy="788.5" r="2.95"/><circle cx="162.4" cy="794.2" r="2.95"/><circle cx="169.3" cy="794.2" r="2.95"/><circle cx="175" cy="795.3" r="2.95"/><circle cx="178.4" cy="796.4" r="2.95"/><circle cx="166" cy="797" r="2.95"/><circle cx="172" cy="799" r="2.95"/><circle cx="158" cy="800" r="2.95"/><circle cx="190" cy="758" r="2.95"/><circle cx="193" cy="786" r="2.95"/><circle cx="190" cy="790" r="2.95"/><circle cx="199" cy="771" r="2.95"/><circle cx="199" cy="789" r="2.95"/><circle cx="161.78" cy="732.1" r="2.95"/><circle cx="157.08" cy="732.1" r="2.95"/><circle cx="153.05" cy="735.17" r="2.95"/><circle cx="163.75" cy="733.59" r="2.95"/><circle cx="171.67" cy="732.62" r="2.95"/><circle cx="173.8" cy="734.57" r="2.95"/><circle cx="177.45" cy="739.32" r="2.95"/><circle cx="169.45" cy="750.67" r="2.95"/><circle cx="141.54" cy="741.15" r="2.95"/><circle cx="143.28" cy="746.14" r="2.95"/><circle cx="146.79" cy="741.21" r="2.95"/><circle cx="152.13" cy="743.18" r="2.95"/><circle cx="145.82" cy="746.2" r="2.95"/><circle cx="148.54" cy="751.05" r="2.95"/><circle cx="130.76" cy="749.98" r="2.95"/><circle cx="145.04" cy="759.18" r="2.95"/><circle cx="136.47" cy="752.69" r="2.95"/><circle cx="178.22" cy="750.11" r="2.95"/><circle cx="182.04" cy="754.29" r="2.95"/><circle cx="187.67" cy="753.56" r="2.95"/><circle cx="187.59" cy="755.12" r="2.95"/><circle cx="198.85" cy="756.54" r="2.95"/><circle cx="196.84" cy="758.85" r="2.95"/><circle cx="182.03" cy="760.33" r="2.95"/><circle cx="175.69" cy="757.38" r="2.95"/><circle cx="184.38" cy="764.14" r="2.95"/><circle cx="188.5" cy="774.22" r="2.95"/><circle cx="193.24" cy="780.03" r="2.95"/><circle cx="198.3" cy="792.16" r="2.95"/><circle cx="183.31" cy="801.64" r="2.95"/><circle cx="188.75" cy="801.11" r="2.95"/><circle cx="181.62" cy="771.72" r="2.95"/><circle cx="181.54" cy="767.94" r="2.95"/><circle cx="178.86" cy="764.89" r="2.95"/><circle cx="152.91" cy="778.46" r="2.95"/><circle cx="153.04" cy="787.5" r="2.95"/><circle cx="155.54" cy="792.9" r="2.95"/><circle cx="163.89" cy="802.24" r="2.95"/><circle cx="170.17" cy="797.15" r="2.95"/><circle cx="173.04" cy="785.4" r="2.95"/><circle cx="178.56" cy="780.32" r="2.95"/><circle cx="162.59" cy="788.77" r="2.95"/><circle cx="164.28" cy="792.45" r="2.95"/><circle cx="170.68" cy="788.33" r="2.95"/><circle cx="173.96" cy="789.33" r="2.95"/><circle cx="182.53" cy="788.51" r="2.95"/><circle cx="162.21" cy="792.23" r="2.95"/><circle cx="176.86" cy="794.05" r="2.95"/><circle cx="168.51" cy="797.7" r="2.95"/><circle cx="173.6" cy="797.83" r="2.95"/><circle cx="156.16" cy="801.75" r="2.95"/><circle cx="191.24" cy="757.46" r="2.95"/><circle cx="187.81" cy="792.16" r="2.95"/><circle cx="201.48" cy="791.14" r="2.95"/></g>
<circle cx="163.5" cy="764" r="16.5" fill="url(#gg)"/>
<g fill="url(#gy)"><circle cx="158.5" cy="746.8" r="2.95"/><circle cx="161.9" cy="752.5" r="2.95"/><circle cx="171.6" cy="756.4" r="2.95"/><circle cx="169.3" cy="756.4" r="2.95"/><circle cx="163.6" cy="758.7" r="2.95"/><circle cx="164.7" cy="761" r="2.95"/><circle cx="177.3" cy="758.7" r="2.95"/><circle cx="180.7" cy="763.3" r="2.95"/><circle cx="176" cy="766" r="2.95"/><circle cx="178" cy="770" r="2.95"/><circle cx="174" cy="773" r="2.95"/><circle cx="176.5" cy="776.5" r="2.95"/><circle cx="172" cy="778.5" r="2.95"/></g>
<path d="M157 774.5 L161 777.5 L154.3 781.5 Z" fill="#e81414"/>
</g>
<path d="M223 598.3L125.54 565.69" stroke="#000" stroke-width="1.3" fill="none"/>
<path d="M120.8 564.1L127.85 563.51L125.11 565.54L126.08 568.82Z" fill="#000"/>
<path d="M325.3 677.6L127.29 618.92" stroke="#000" stroke-width="1.3" fill="none"/>
<path d="M122.5 617.5L129.53 616.66L126.86 618.79L127.94 622.03Z" fill="#000"/>
<path d="M161 809.2L126.04 838.4" stroke="#000" stroke-width="1.3" fill="none"/>
<path d="M122.2 841.6L125.39 835.28L125.69 838.68L128.98 839.58Z" fill="#000"/>
<rect x="91.8" y="490.3" width="590.4" height="419.2" fill="none" stroke="#000" stroke-width="2"/>
<path d="M117.14 909.5v-7.5M117.14 490.3v7.5M138.49 909.5v-7.5M138.49 490.3v7.5M156.54 909.5v-7.5M156.54 490.3v7.5M172.17 909.5v-7.5M172.17 490.3v7.5M185.96 909.5v-7.5M185.96 490.3v7.5M198.3 909.5v-12.8M198.3 490.3v12.8M279.46 909.5v-7.5M279.46 490.3v7.5M326.93 909.5v-7.5M326.93 490.3v7.5M360.62 909.5v-7.5M360.62 490.3v7.5M386.74 909.5v-7.5M386.74 490.3v7.5M408.09 909.5v-7.5M408.09 490.3v7.5M426.14 909.5v-7.5M426.14 490.3v7.5M441.77 909.5v-7.5M441.77 490.3v7.5M455.56 909.5v-7.5M455.56 490.3v7.5M467.9 909.5v-12.8M467.9 490.3v12.8M549.06 909.5v-7.5M549.06 490.3v7.5M596.53 909.5v-7.5M596.53 490.3v7.5M630.22 909.5v-7.5M630.22 490.3v7.5M656.34 909.5v-7.5M656.34 490.3v7.5M677.69 909.5v-7.5M677.69 490.3v7.5M91.8 899.32h7.5M682.2 899.32h-7.5M91.8 890.5h12.8M682.2 890.5h-12.8M91.8 832.49h7.5M682.2 832.49h-7.5M91.8 798.56h7.5M682.2 798.56h-7.5M91.8 774.48h7.5M682.2 774.48h-7.5M91.8 755.81h7.5M682.2 755.81h-7.5M91.8 740.55h7.5M682.2 740.55h-7.5M91.8 727.65h7.5M682.2 727.65h-7.5M91.8 716.47h7.5M682.2 716.47h-7.5M91.8 706.62h7.5M682.2 706.62h-7.5M91.8 697.8h12.8M682.2 697.8h-12.8M91.8 639.79h7.5M682.2 639.79h-7.5M91.8 605.86h7.5M682.2 605.86h-7.5M91.8 581.78h7.5M682.2 581.78h-7.5M91.8 563.11h7.5M682.2 563.11h-7.5M91.8 547.85h7.5M682.2 547.85h-7.5M91.8 534.95h7.5M682.2 534.95h-7.5M91.8 523.77h7.5M682.2 523.77h-7.5M91.8 513.92h7.5M682.2 513.92h-7.5M91.8 505.1h12.8M682.2 505.1h-12.8" stroke="#000" stroke-width="1.6" fill="none"/>
<text x="42.61" y="900.8" font-size="30.6">10</text>
<text x="73.09" y="889.2" font-size="21.3">0</text>
<text x="42.61" y="708.1" font-size="30.6">10</text>
<text x="72.03" y="696.5" font-size="21.3">1</text>
<text x="42.61" y="515.4" font-size="30.6">10</text>
<text x="72.96" y="503.8" font-size="21.3">2</text>
<text x="170.13" y="938.6" font-size="30.4">10</text>
<path d="M202 921.7H213.7" stroke="#000" stroke-width="1.3"/>
<text x="214.47" y="928" font-size="21.5">3</text>
<text x="439.73" y="938.6" font-size="30.4">10</text>
<path d="M471.6 921.7H483.3" stroke="#000" stroke-width="1.3"/>
<text x="484.16" y="928" font-size="21.5">2</text>
<g transform="translate(27.7 740) rotate(-90)">
<text x="1.82" y="0" font-size="28.5" font-style="italic">D</text>
<text x="20.51" y="8.3" font-size="19.5" font-style="italic">r</text>
<text x="20.72" y="-10.2" font-size="19.5" font-style="italic">a</text>
<text x="35" y="0" font-size="28.5">/</text>
<text x="45.62" y="0" font-size="28.5" font-style="italic">D</text>
<text x="65.71" y="8.3" font-size="19.5" font-style="italic">r</text>
<text x="68.14" y="-9.9" font-size="19.5" font-style="italic">p</text>
</g>
<text x="353.59" y="968.8" font-size="28" font-style="italic">k</text>
<text x="367.34" y="972.6" font-size="17" font-style="italic">B</text>
<text x="379.37" y="968.8" font-size="28" font-style="italic">T</text>
<text x="399.8" y="968.8" font-size="28">/</text>
<text x="406.9" y="968.8" font-size="28" font-style="italic">ε</text>
<text x="118.04" y="882" font-size="26.5">(</text>
<text x="127.1" y="882" font-size="27" font-style="italic">b</text>
<text x="141.05" y="882" font-size="26.5">)</text>
<path d="M555.3 769.3 C557 763.2 561.2 762.4 563.8 766.2 S570.2 770.6 571.9 763.7" stroke="#000" stroke-width="1.9" fill="none"/>
<path d="M588.1 747.2 Q576.4 764.6 588.1 782 L588.8 781.5 Q580.6 764.6 588.8 747.7 Z" fill="#000"/>
<path d="M628.9 746.3 Q643.6 763.9 628.9 781.5 L628.2 781 Q639.6 763.9 628.2 746.8 Z" fill="#000"/>
<text x="591.3" y="760.4" font-size="20.8" font-style="italic">k</text>
<text x="601.27" y="762.6" font-size="14.5" font-style="italic">B</text>
<text x="610.96" y="760.4" font-size="20.5" font-style="italic">T</text>
<path d="M591.6 769.6H622.5" stroke="#000" stroke-width="1.5"/>
<text x="602.97" y="781.5" font-size="20" font-style="italic">ε</text>
<path d="M641.9 758.4H653.6" stroke="#000" stroke-width="1.3"/>
<text x="655.01" y="764.1" font-size="21.5">1</text>
<path d="M440.9 527.8H500.7" stroke="#dc2440" stroke-width="3.2" stroke-dasharray="12.1 5.5" fill="none"/>
<circle cx="470.7" cy="527.8" r="7.0" fill="#dc2440"/>
<text x="524.6" y="537.7" font-size="30">ns,</text>
<text transform="translate(565.84 537.7) scale(1.130 1.000)" font-size="29.4" font-style="italic">β</text>
<path d="M587 527.7H605M587 533.5H605" stroke="#000" stroke-width="1.6"/>
<text x="610.09" y="537.7" font-size="29.5">5</text>
<path d="M440.9 558.3H500.7" stroke="#40c22c" stroke-width="3.2" stroke-dasharray="12.1 5.5" fill="none"/>
<circle cx="470.7" cy="558.3" r="7.0" fill="#40c22c"/>
<text x="524.6" y="568.2" font-size="30">ns,</text>
<text transform="translate(565.84 568.2) scale(1.130 1.000)" font-size="29.4" font-style="italic">β</text>
<path d="M587 558.2H605M587 564H605" stroke="#000" stroke-width="1.6"/>
<text x="610.68" y="568.2" font-size="29.5">0</text>
<path d="M440.9 588.9H500.7" stroke="#52a6f3" stroke-width="3.2" stroke-dasharray="12.1 5.5" fill="none"/>
<circle cx="470.7" cy="588.9" r="7.0" fill="#52a6f3"/>
<text x="524.6" y="598.8" font-size="30">ns,</text>
<text transform="translate(565.84 598.8) scale(1.130 1.000)" font-size="29.4" font-style="italic">β</text>
<path d="M587 588.8H605M587 594.6H605" stroke="#000" stroke-width="1.6"/>
<path d="M616 591.5H633.4" stroke="#000" stroke-width="1.6"/>
<text x="637.89" y="598.8" font-size="29.5">5</text>
<path d="M439.5 619.6H502" stroke="#dc2440" stroke-width="3.2" fill="none"/>
<circle cx="470.7" cy="619.6" r="7.0" fill="#dc2440"/>
<text x="524.6" y="629.5" font-size="30">rp,</text>
<text transform="translate(565.84 629.5) scale(1.130 1.000)" font-size="29.4" font-style="italic">β</text>
<path d="M587 619.5H605M587 625.3H605" stroke="#000" stroke-width="1.6"/>
<text x="610.09" y="629.5" font-size="29.5">5</text>
<path d="M439.5 650.5H502" stroke="#40c22c" stroke-width="3.2" fill="none"/>
<circle cx="470.7" cy="650.5" r="7.0" fill="#40c22c"/>
<text x="524.6" y="660.4" font-size="30">rp,</text>
<text transform="translate(565.84 660.4) scale(1.130 1.000)" font-size="29.4" font-style="italic">β</text>
<path d="M587 650.4H605M587 656.2H605" stroke="#000" stroke-width="1.6"/>
<text x="610.68" y="660.4" font-size="29.5">0</text>
<path d="M439.5 681.5H502" stroke="#52a6f3" stroke-width="3.2" fill="none"/>
<circle cx="470.7" cy="681.5" r="7.0" fill="#52a6f3"/>
<text x="524.6" y="691.4" font-size="30">rp,</text>
<text transform="translate(565.84 691.4) scale(1.130 1.000)" font-size="29.4" font-style="italic">β</text>
<path d="M587 681.4H605M587 687.2H605" stroke="#000" stroke-width="1.6"/>
<path d="M616 684.1H633.4" stroke="#000" stroke-width="1.6"/>
<text x="637.89" y="691.4" font-size="29.5">5</text>
</svg>
</body></html>
